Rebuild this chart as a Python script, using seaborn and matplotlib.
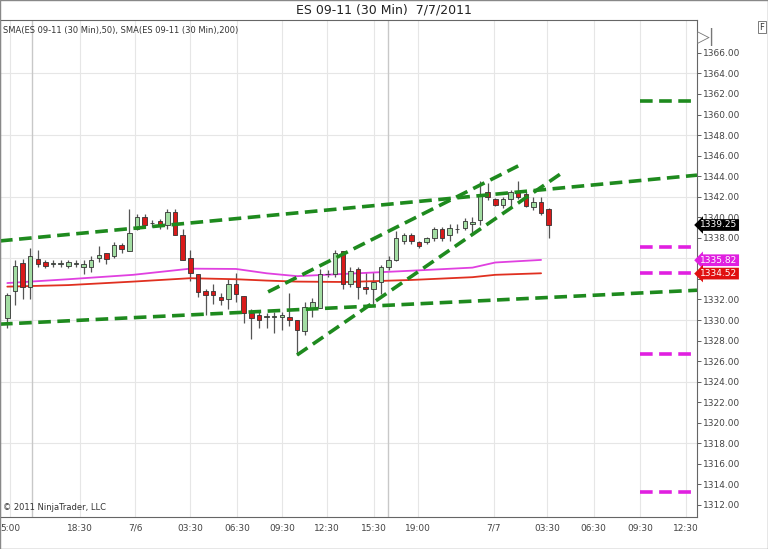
import numpy as np
import pandas as pd
import matplotlib
matplotlib.use("Agg")
import matplotlib.pyplot as plt
import seaborn as sns

opens = [1330.23,1332.83,1335.53,1333.25,1335.95,1335.6,1335.5,1335.5,1335.27,1335.5,1335.2,1335.2,1336.0,1336.57,1336.27,1337.28,1336.76,1338.9,1340.0,1339.4,1339.6,1339.2,1340.5,1338.3,1336.0,1334.45,1332.83,1332.8,1332.28,1332.0,1333.5,1332.3,1330.7,1330.5,1330.33,1330.33,1330.27,1330.33,1330.0,1328.97,1331.05,1331.2,1334.46,1334.46,1336.76,1333.5,1334.98,1333.26,1333.03,1333.68,1335.2,1335.85,1337.74,1338.29,1337.58,1337.55,1337.96,1338.84,1338.29,1338.84,1339.0,1339.3,1339.75,1342.5,1341.76,1341.2,1341.76,1342.5,1342.28,1341.0,1341.5,1340.8]
closes = [1332.44,1335.27,1333.19,1336.27,1335.46,1335.27,1335.5,1335.5,1335.6,1335.5,1335.5,1335.8,1336.3,1335.95,1337.28,1336.96,1338.5,1340.0,1339.2,1339.4,1339.2,1340.56,1338.3,1335.8,1334.55,1332.77,1332.44,1332.4,1331.96,1333.5,1332.5,1330.7,1330.17,1330.0,1330.33,1330.33,1330.5,1330.0,1329.0,1331.24,1331.73,1334.46,1334.46,1336.5,1333.5,1334.78,1333.26,1333.03,1333.68,1335.2,1335.8,1337.96,1338.29,1337.74,1337.22,1337.96,1338.84,1337.96,1339.0,1338.84,1339.6,1339.55,1342.28,1342.0,1341.2,1341.76,1342.5,1342.0,1341.05,1341.5,1340.4,1339.25]
highs = [1332.6,1335.8,1335.9,1337.0,1336.8,1335.85,1335.85,1335.85,1335.85,1335.85,1335.8,1336.2,1337.2,1336.57,1337.6,1337.5,1340.8,1340.3,1340.3,1339.75,1339.8,1340.8,1340.8,1338.9,1336.8,1334.45,1333.0,1333.5,1332.6,1334.0,1334.55,1332.3,1331.1,1330.9,1330.65,1330.8,1330.8,1332.6,1330.0,1331.8,1332.1,1335.0,1334.9,1336.8,1336.76,1335.2,1335.2,1334.7,1334.7,1335.4,1336.2,1338.7,1338.45,1338.45,1337.7,1338.1,1339.1,1339.1,1339.3,1339.3,1339.9,1340.07,1343.5,1343.3,1341.85,1342.0,1342.7,1343.5,1342.5,1342.0,1342.0,1340.9]
lows = [1329.2,1331.5,1332.0,1332.0,1335.2,1335.1,1335.2,1335.2,1335.1,1335.2,1334.5,1334.7,1335.6,1335.5,1336.0,1336.5,1336.76,1338.8,1339.1,1339.1,1338.9,1338.9,1338.3,1335.8,1333.8,1332.2,1330.5,1331.6,1331.5,1331.1,1331.8,1329.7,1328.2,1329.2,1329.2,1328.7,1329.0,1329.4,1326.6,1328.5,1330.3,1331.15,1334.2,1334.2,1333.0,1333.2,1332.0,1332.5,1331.6,1332.5,1334.9,1335.7,1337.4,1337.4,1337.0,1337.4,1337.7,1337.7,1337.7,1338.45,1338.8,1338.45,1339.26,1341.7,1341.1,1340.9,1341.0,1341.76,1341.0,1340.7,1340.2,1338.0]

sma_idx = [0, 8, 16.5, 24, 30, 34, 38, 44.5, 53, 61, 64, 70]
sma50 = [1333.6, 1333.97, 1334.4, 1335.0, 1334.97, 1334.55, 1334.27, 1334.5, 1334.8, 1335.1, 1335.6, 1335.85]
sma200 = [1333.25, 1333.4, 1333.74, 1334.07, 1333.97, 1333.84, 1333.74, 1333.7, 1333.9, 1334.17, 1334.4, 1334.55]

trend_lines = [((-0.96, 90.45), (1337.7, 1344.1)),
               ((-0.96, 90.45), (1329.6, 1332.9)),
               ((34.2, 67.0), (1332.74, 1345.0)),
               ((38.0, 72.9), (1326.6, 1344.4))]
green_levels = [1351.3]
magenta_levels = [1337.1, 1334.6, 1326.7, 1313.3]

tick_pos = [0.35, 9.53, 16.75, 23.96, 30.1, 36.0, 41.9, 48.1, 53.9, 63.8, 70.8, 76.9, 82.98, 89.0]
tick_labels = ["5:00", "18:30", "7/6", "03:30", "06:30", "09:30", "12:30", "15:30", "19:00", "7/7", "03:30", "06:30", "09:30", "12:30"]
ytick_vals = [1312,1314,1316,1318,1320,1322,1324,1326,1328,1330,1332,1334,1336,1338,1340,1342,1344,1346,1348,1350,1352,1354,1356]
ytick_labels = ["1312.00","1314.00","1316.00","1318.00","1320.00","1322.00","1324.00","1326.00","1328.00","1330.00","1332.00","","","1338.00","1340.00","1342.00","1344.00","1346.00","1348.00","1360.00","1362.00","1364.00","1366.00"]

sns.set_theme(style="white")
plt.rcParams['font.family'] = ['DejaVu Sans']
fig = plt.figure(figsize=(7.68, 5.49), dpi=100)
ax = fig.add_axes([0.0, 1 - 517/549, 697/768, (517 - 20)/549])
ax.set_xlim(-0.96, 90.45)
ax.set_ylim(1310.83, 1359.2)

for g in [1318, 1324, 1330, 1336, 1342, 1348, 1354]:
    ax.axhline(g, color="#e6e6e6", lw=0.8, zorder=0)
for t in tick_pos:
    ax.axvline(t, color="#e6e6e6", lw=0.8, zorder=0)
for t in [3.2, 49.9]:
    ax.axvline(t, color="#c8c8c8", lw=1.0, zorder=0)

x = np.arange(len(opens))
df = pd.DataFrame({"x": x, "o": opens, "c": closes, "h": highs, "l": lows})
ax.vlines(df.x, df.l, df.h, color="#555555", lw=0.9, zorder=2)
up = df.c >= df.o
bottoms = np.minimum(df.o, df.c)
heights = np.maximum(np.abs(df.c - df.o), 0.06)
ax.bar(df.x[up], heights[up], bottom=bottoms[up], width=0.6, color="#a3dda3", edgecolor="#333333", lw=0.6, zorder=3)
ax.bar(df.x[~up], heights[~up], bottom=bottoms[~up], width=0.6, color="#d91a1a", edgecolor="#333333", lw=0.6, zorder=3)

sns.lineplot(x=sma_idx, y=sma50, ax=ax, color="#e040e0", lw=1.3, zorder=2)
sns.lineplot(x=sma_idx, y=sma200, ax=ax, color="#e03020", lw=1.3, zorder=2)

for xs, ys in trend_lines:
    ax.plot(xs, ys, color="#1e8a1e", lw=2.6, ls=(0, (3.5, 1.8)), zorder=4)
for lv in green_levels:
    ax.plot([83, 90.45], [lv, lv], color="#1e8a1e", lw=2.6, ls=(0, (3.5, 1.8)), zorder=4)
for lv in magenta_levels:
    ax.plot([83, 90.45], [lv, lv], color="#e020e0", lw=2.6, ls=(0, (3.5, 1.8)), zorder=4)

ax.yaxis.tick_right()
ax.set_yticks(ytick_vals)
ax.set_yticklabels(ytick_labels, fontsize=6.5, color="#444444")
ax.set_xticks(tick_pos)
ax.set_xticklabels(tick_labels, fontsize=6.5, color="#444444")
ax.tick_params(axis="both", length=3, width=0.6, color="#444444", pad=1)
ax.tick_params(axis="x", length=0, pad=5)
for s in ax.spines.values():
    s.set_color("#666666"); s.set_linewidth(0.8)

for val, col, txt in [(1339.25, "black", "1339.25"), (1335.82, "#e020e0", "1335.82"), (1334.52, "#e01010", "1334.52")]:
    ax.text(90.9, val, txt, fontsize=6.5, color="white", va="center", ha="left",
            bbox=dict(boxstyle="larrow,pad=0.15", fc=col, ec="none"), clip_on=False, zorder=6)

fig.text(0.5, 1 - 10/549, "ES 09-11 (30 Min)  7/7/2011", ha="center", va="center", fontsize=9, color="#222222")
fig.text(0.004, 1 - 30/549, "SMA(ES 09-11 (30 Min),50), SMA(ES 09-11 (30 Min),200)", ha="left", va="center", fontsize=6, color="#333333")
fig.text(0.004, 1 - 508/549, "© 2011 NinjaTrader, LLC", ha="left", va="center", fontsize=6, color="#333333")
fig.text(706/768, 1 - 37/549, "▷|", ha="center", va="center", fontsize=12, color="#777777")
fig.text(762/768, 1 - 27/549, "F", ha="center", va="center", fontsize=6, color="#333333",
         bbox=dict(boxstyle="square,pad=0.2", fc="white", ec="#666666", lw=0.6))
fig.patches.append(matplotlib.patches.Rectangle((0, 0), 1, 1, transform=fig.transFigure, fill=False, ec="#888888", lw=1))

fig.savefig("out.png", dpi=100)
